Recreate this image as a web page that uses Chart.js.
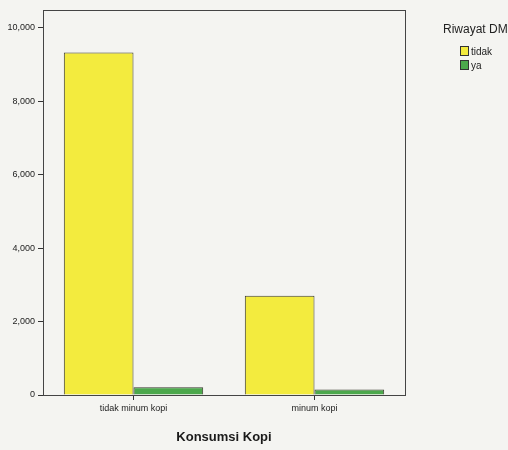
<!DOCTYPE html>
<html>
<head>
<meta charset="utf-8">
<script src="https://cdn.jsdelivr.net/npm/chart.js@4/dist/chart.umd.min.js"></script>
<style>
  html, body { margin: 0; padding: 0; background: #f4f4f1; }
  #wrap { position: relative; width: 508px; height: 450px; }
  #legend { position: absolute; left: 443px; top: 22px; font-family: "Liberation Sans", Arial, sans-serif; color: #222; }
  #legend .title { font-size: 12px; margin-bottom: 10px; white-space: nowrap; }
  #legend .item { font-size: 10px; height: 14px; line-height: 11px; padding-left: 17px; white-space: nowrap; }
  #legend .box { display: inline-block; width: 7px; height: 8px; border: 1px solid #333; vertical-align: -1px; margin-right: 2px; }
</style>
</head>
<body>
<div id="wrap">
  <canvas id="chart" width="508" height="450"></canvas>
  <div id="legend"></div>
</div>
<script>
const categories = ['tidak minum kopi', 'minum kopi'];
const seriesNames = ['tidak', 'ya'];
const tidakValues = [9320, 2700];
const yaValues = [210, 150];
const yTicks = [0, 2000, 4000, 6000, 8000, 10000];

const colors = ['#f3eb3e', '#4ca84c'];

const frame = {
  id: 'frame',
  afterDraw(chart) {
    const { ctx, chartArea } = chart;
    ctx.save();
    ctx.strokeStyle = '#444';
    ctx.lineWidth = 1;
    ctx.strokeRect(chartArea.left + 0.5, chartArea.top + 0.5, chartArea.right - chartArea.left, chartArea.bottom - chartArea.top);
    ctx.restore();
  }
};

const font = { family: '"Liberation Sans", Arial, sans-serif', size: 9 };

new Chart(document.getElementById('chart'), {
  type: 'bar',
  data: {
    labels: categories,
    datasets: [
      { label: seriesNames[0], data: tidakValues, backgroundColor: colors[0], borderColor: '#3a3a30', borderWidth: 1 },
      { label: seriesNames[1], data: yaValues, backgroundColor: colors[1], borderColor: '#3a3a30', borderWidth: 1 }
    ]
  },
  options: {
    responsive: false,
    animation: false,
    layout: { padding: { top: 10, right: 103, left: 0, bottom: 0 } },
    datasets: { bar: { categoryPercentage: 0.77, barPercentage: 1.0 } },
    plugins: { legend: { display: false }, tooltip: { enabled: false } },
    scales: {
      x: {
        grid: { offset: false, drawOnChartArea: false, drawTicks: true, tickLength: 5, color: '#333' },
        border: { display: true, color: '#333' },
        ticks: { font, color: '#222', padding: 3, maxRotation: 0 },
        title: { display: true, text: 'Konsumsi Kopi', color: '#1a1a1a', padding: { top: 0, bottom: 5 },
                 font: { family: '"Liberation Sans", Arial, sans-serif', size: 13, weight: 'bold' } },
        afterFit(s) { s.height = 55; }
      },
      y: {
        min: 0,
        max: 10480,
        grid: { drawOnChartArea: false, drawTicks: true, tickLength: 5, color: '#333' },
        border: { display: true, color: '#333' },
        afterBuildTicks(s) { s.ticks = yTicks.map(v => ({ value: v })); },
        ticks: { font, color: '#222', padding: 3, callback: v => v.toLocaleString('en-US') },
        afterFit(s) { s.width = 43; }
      }
    }
  },
  plugins: [frame]
});

const legend = document.getElementById('legend');
legend.innerHTML = '<div class="title">Riwayat DM</div>' +
  seriesNames.map((n, i) => '<div class="item"><span class="box" style="background:' + colors[i] + '"></span>' + n + '</div>').join('');
</script>
</body>
</html>
